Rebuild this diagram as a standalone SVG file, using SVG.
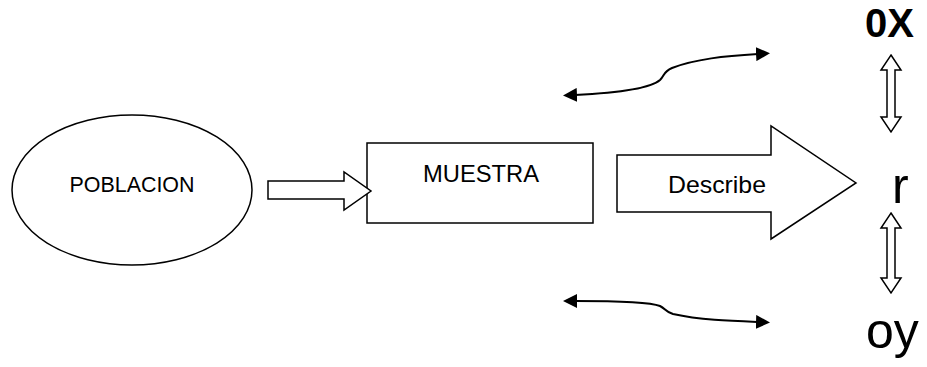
<svg xmlns="http://www.w3.org/2000/svg" width="927" height="367" viewBox="0 0 927 367">
<style>
.shape{fill:#fff;stroke:#000;stroke-width:1.5}
.lbl{font-family:"Liberation Sans",Arial,sans-serif;fill:#000}
.curve{fill:none;stroke:#000;stroke-width:2}
</style>
<defs>
<marker id="ah" viewBox="0 0 14 14" refX="2" refY="7" markerWidth="14" markerHeight="14" markerUnits="userSpaceOnUse" orient="auto-start-reverse">
<path d="M0,0 L14,7 L0,14 Z" fill="#000"/>
</marker>
</defs>
<rect width="927" height="367" fill="#fff"/>
<g id="poblacion">
<ellipse class="shape" cx="132" cy="190" rx="120" ry="75"/>
<text class="lbl" x="132" y="192" font-size="22" text-anchor="middle" textLength="125" lengthAdjust="spacingAndGlyphs">POBLACION</text>
</g>
<g id="muestra">
<rect class="shape" x="367" y="143" width="226" height="80"/>
<text class="lbl" x="481" y="182" font-size="24" text-anchor="middle" textLength="116" lengthAdjust="spacingAndGlyphs">MUESTRA</text>
</g>
<g id="describe">
<path class="shape" d="M617,155 H771 V126 L856,183 L771,239 V212 H617 Z"/>
<text class="lbl" x="717" y="193" font-size="24" text-anchor="middle" textLength="98" lengthAdjust="spacingAndGlyphs">Describe</text>
</g>
<g id="ox">
<text class="lbl" x="865" y="37" font-size="40" font-weight="bold">0X</text>
</g>
<g id="r">
<text class="lbl" x="892" y="203" font-size="50">r</text>
</g>
<g id="oy">
<text class="lbl" x="866" y="348" font-size="50">oy</text>
</g>
<g id="connectors">
<path class="shape" d="M268,181 H344 V172 L371,191 L344,210 V199 H268 Z"/>
<path class="shape" d="M891,55 L901,70 H895 V117 H901 L891,132 L881,117 H887 V70 H881 Z"/>
<path class="shape" d="M891,213 L901,228 H895 V278 H901 L891,293 L881,278 H887 V228 H881 Z"/>
<path class="curve" marker-start="url(#ah)" marker-end="url(#ah)" d="M575,95 C615,93 650,89 660,80 C665,75 663,72 672,68 C695,59 725,56 758,54"/>
<path class="curve" marker-start="url(#ah)" marker-end="url(#ah)" d="M575,301 C615,301 650,302 660,306 C666,309 664,311 673,314 C700,320 730,321 758,322"/>
</g>
</svg>
